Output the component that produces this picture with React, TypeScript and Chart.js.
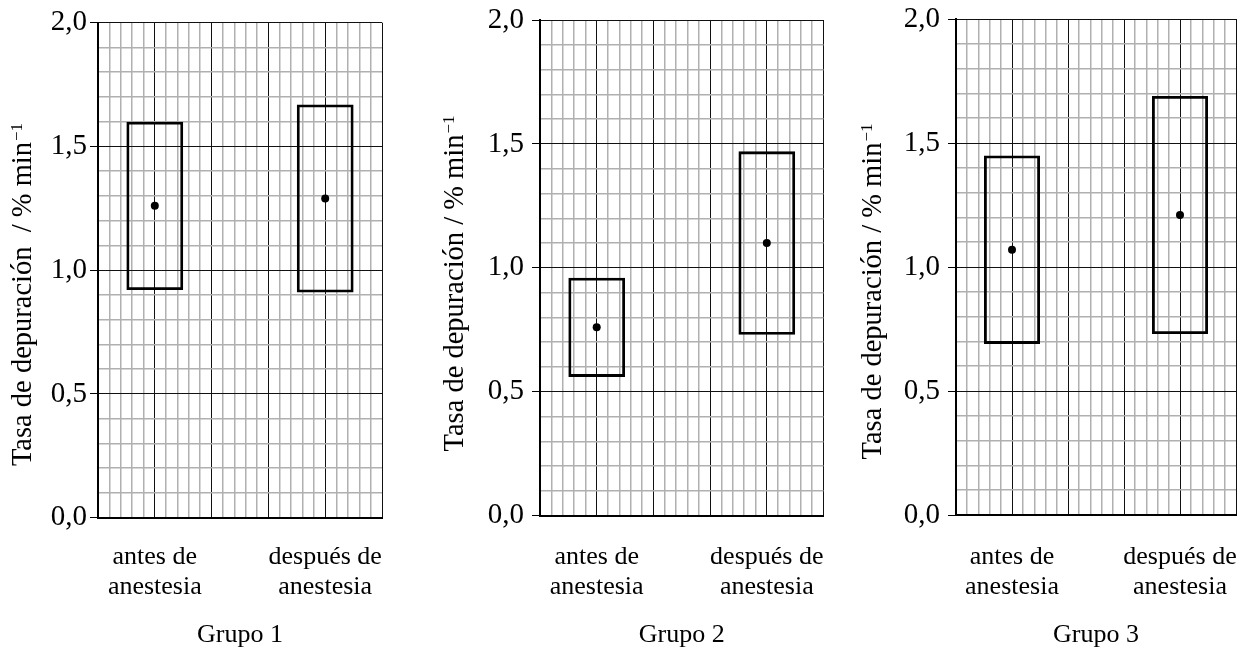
import React, { useEffect, useRef } from 'react';
import { Chart, registerables } from 'chart.js';

Chart.register(...registerables);

// ---------- data ----------
const groupTitles = ['Grupo 1', 'Grupo 2', 'Grupo 3'];
const categoryLabels = [
  ['antes de', 'anestesia'],
  ['después de', 'anestesia'],
];
// grid has 25 columns; categories sit on columns 5 and 20
const gridColumns = 25;
const categoryPositions = [5, 20];

const grupo1Low = [0.92, 0.91];
const grupo1High = [1.6, 1.67];
const grupo1Mean = [1.26, 1.29];

const grupo2Low = [0.56, 0.73];
const grupo2High = [0.96, 1.47];
const grupo2Mean = [0.76, 1.1];

const grupo3Low = [0.69, 0.73];
const grupo3High = [1.45, 1.69];
const grupo3Mean = [1.07, 1.21];

const yMin = 0;
const yMax = 2;
const yMinorStep = 0.1;
const yMajorStep = 0.5;
const xMajorStep = 5;

const yAxisTitles = [
  'Tasa de depuración  / % min',
  'Tasa de depuración / % min',
  'Tasa de depuración / % min',
];
const yAxisTitleSup = '−1';

const lows = [grupo1Low, grupo2Low, grupo3Low];
const highs = [grupo1High, grupo2High, grupo3High];
const means = [grupo1Mean, grupo2Mean, grupo3Mean];

// ---------- layout ----------
const W = 1240;
const H = 649;
const FONT = "'Liberation Serif', 'Times New Roman', Times, serif";

const layouts = [
  { left: 0, width: 420, plotLeft: 98, plotRight: 382, plotTop: 22.7, plotBottom: 517.7, yPad: 3, titleX: 30.7, titleY: 295 },
  { left: 420, width: 420, plotLeft: 540, plotRight: 823.5, plotTop: 20, plotBottom: 515.7, yPad: 8, titleX: 463.3, titleY: 284 },
  { left: 840, width: 400, plotLeft: 956, plotRight: 1239.5, plotTop: 19, plotBottom: 515, yPad: 8, titleX: 880.7, titleY: 292 },
];

const MAJOR = '#111111';
const MINOR = '#b0b0b0';

const isMultiple = (v: number, step: number) =>
  typeof v === 'number' && Math.abs(v / step - Math.round(v / step)) < 1e-6;

function Panel({ idx }: { idx: number }) {
  const ref = useRef<HTMLCanvasElement>(null);
  const L = layouts[idx];

  useEffect(() => {
    const canvas = ref.current!;
    const yTitlePlugin = {
      id: 'yTitleCustom',
      afterDraw(chart: any) {
        const ctx = chart.ctx;
        ctx.save();
        ctx.translate(L.titleX - L.left, L.titleY);
        ctx.rotate(-Math.PI / 2);
        ctx.fillStyle = '#000';
        ctx.textBaseline = 'alphabetic';
        ctx.textAlign = 'left';
        ctx.font = `28.5px ${FONT}`;
        const w1 = ctx.measureText(yAxisTitles[idx]).width;
        ctx.font = `17px ${FONT}`;
        const w2 = ctx.measureText(yAxisTitleSup).width;
        const start = -(w1 + w2) / 2;
        ctx.font = `28.5px ${FONT}`;
        ctx.fillText(yAxisTitles[idx], start, 0);
        ctx.font = `17px ${FONT}`;
        ctx.fillText(yAxisTitleSup, start + w1 + 1, -9);
        ctx.restore();
      },
    };

    const chart = new Chart(canvas, {
      type: 'bar',
      data: {
        datasets: [
          {
            type: 'scatter',
            data: categoryPositions.map((x, i) => ({ x, y: means[idx][i] })),
            pointRadius: 4,
            pointBackgroundColor: '#000',
            pointBorderWidth: 0,
            order: 1,
          } as any,
          {
            type: 'bar',
            data: categoryPositions.map((x, i) => ({ x, y: [lows[idx][i], highs[idx][i]] })),
            backgroundColor: 'rgba(0,0,0,0)',
            borderColor: '#000',
            borderWidth: 2.8,
            borderSkipped: false,
            categoryPercentage: 1,
            barPercentage: 5,
            order: 2,
          } as any,
        ],
      },
      plugins: [yTitlePlugin],
      options: {
        responsive: false,
        animation: false,
        events: [],
        layout: {
          padding: {
            left: 0,
            top: L.plotTop,
            right: L.width - (L.plotRight - L.left),
            bottom: 0,
          },
        },
        plugins: {
          legend: { display: false },
          tooltip: { enabled: false },
        },
        scales: {
          x: {
            type: 'linear',
            min: 0,
            max: gridColumns,
            offset: false,
            grid: {
              offset: false,
              drawTicks: true,
              tickLength: 25 + (517.7 - L.plotBottom),
              tickColor: 'rgba(0,0,0,0)',
              color: (c: any) => (isMultiple(c.tick?.value, xMajorStep) ? MAJOR : MINOR),
              lineWidth: (c: any) => (isMultiple(c.tick?.value, xMajorStep) ? 1 : 1.5),
            },
            border: { color: '#000', width: 2 },
            ticks: {
              stepSize: 1,
              autoSkip: false,
              maxRotation: 0,
              minRotation: 0,
              padding: 0,
              color: '#000',
              font: { family: FONT, size: 26, lineHeight: 1.15 },
              callback: (v: any) => {
                const i = categoryPositions.indexOf(Number(v));
                return i >= 0 ? categoryLabels[i] : '';
              },
            },
            title: {
              display: true,
              text: groupTitles[idx],
              color: '#000',
              font: { family: FONT, size: 26 },
              padding: { top: 0, bottom: -2 },
            },
            afterFit: (s: any) => {
              s.height = H - L.plotBottom;
            },
          } as any,
          y: {
            type: 'linear',
            min: yMin,
            max: yMax,
            grid: {
              color: (c: any) => (isMultiple(c.tick?.value, yMajorStep) ? MAJOR : MINOR),
              lineWidth: (c: any) => (isMultiple(c.tick?.value, yMajorStep) ? 1 : 1.5),
              drawTicks: true,
              tickLength: 8,
              tickWidth: 1,
              tickColor: (c: any) => (isMultiple(c.tick?.value, yMajorStep) ? '#000' : 'rgba(0,0,0,0)'),
            },
            border: { color: '#000', width: 2 },
            ticks: {
              stepSize: yMinorStep,
              autoSkip: false,
              padding: L.yPad,
              color: '#000',
              font: { family: FONT, size: 29, lineHeight: 0.7 },
              callback: (v: any) =>
                isMultiple(Number(v), yMajorStep) ? Number(v).toFixed(1).replace('.', ',') : '',
            },
            afterFit: (s: any) => {
              s.width = L.plotLeft - L.left;
            },
          } as any,
        },
      } as any,
    });
    return () => chart.destroy();
  }, []);

  return (
    <canvas
      ref={ref}
      width={L.width}
      height={H}
      style={{ position: 'absolute', left: L.left, top: 0, width: L.width, height: H }}
    />
  );
}

export default function App() {
  return (
    <div style={{ position: 'absolute', left: 0, top: 0, width: W, height: H, background: '#fff', overflow: 'hidden' }}>
      {groupTitles.map((_, i) => (
        <Panel key={i} idx={i} />
      ))}
    </div>
  );
}
